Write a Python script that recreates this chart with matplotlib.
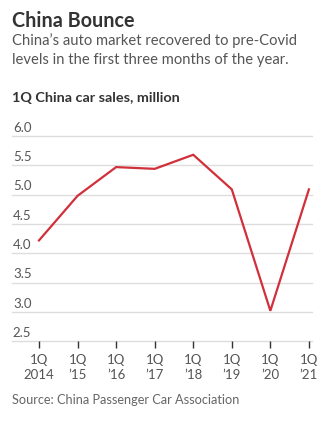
import matplotlib
matplotlib.use("Agg")
import matplotlib.pyplot as plt

plt.rcParams["font.family"] = ["Lato", "DejaVu Sans"]

years = [2014, 2015, 2016, 2017, 2018, 2019, 2020, 2021]
sales = [4.22, 4.98, 5.47, 5.44, 5.68, 5.09, 3.02, 5.09]
tick_labels = ["1Q\n2014", "1Q\n\u201915", "1Q\n\u201916", "1Q\n\u201917",
               "1Q\n\u201918", "1Q\n\u201919", "1Q\n\u201920", "1Q\n\u201921"]
y_ticks = [2.5, 3.0, 3.5, 4.0, 4.5, 5.0, 5.5, 6.0]

W, H = 324, 422
fig = plt.figure(figsize=(W / 100, H / 100), dpi=100)

def px(x, y):
    return x / W, 1 - y / H

ax = fig.add_axes([12 / W, 1 - 341.3 / H, 300 / W, (341.3 - 136) / H])
ax.set_xlim(2013.30, 2021.08)
ax.set_ylim(2.5, 6.0)

for v in y_ticks:
    ax.axhline(v, color="#dddddd", lw=1.0, zorder=1, clip_on=False)
    ax.text(0.003, v + 0.04, f"{v:.1f}", transform=ax.get_yaxis_transform(),
            ha="left", va="bottom", fontsize=9.5, color="#555555")

ax.plot(years, sales, color="#d1303a", lw=1.6, zorder=3, clip_on=False,
        solid_joinstyle="miter")

for s in ax.spines.values():
    s.set_visible(False)
ax.set_yticks([])
ax.set_xticks(years)
ax.set_xticklabels(tick_labels, fontsize=9.5, color="#555555", linespacing=1.35)
ax.tick_params(axis="x", length=5, width=1, color="#333333", pad=4)

fig.text(*px(12, 27), "China Bounce", fontsize=14.2, fontweight="bold",
         color="#333333", ha="left", va="baseline")
fig.text(*px(12, 45), "China\u2019s auto market recovered to pre-Covid", fontsize=10.6,
         color="#555555", ha="left", va="baseline")
fig.text(*px(12, 64), "levels in the first three months of the year.", fontsize=10.6,
         color="#555555", ha="left", va="baseline")
fig.text(*px(12, 102), "1Q China car sales, million", fontsize=10.4, fontweight="bold",
         color="#333333", ha="left", va="baseline")
fig.text(*px(12, 404), "Source: China Passenger Car Association", fontsize=9.2,
         color="#666666", ha="left", va="baseline")

fig.savefig("out.png", dpi=100)
